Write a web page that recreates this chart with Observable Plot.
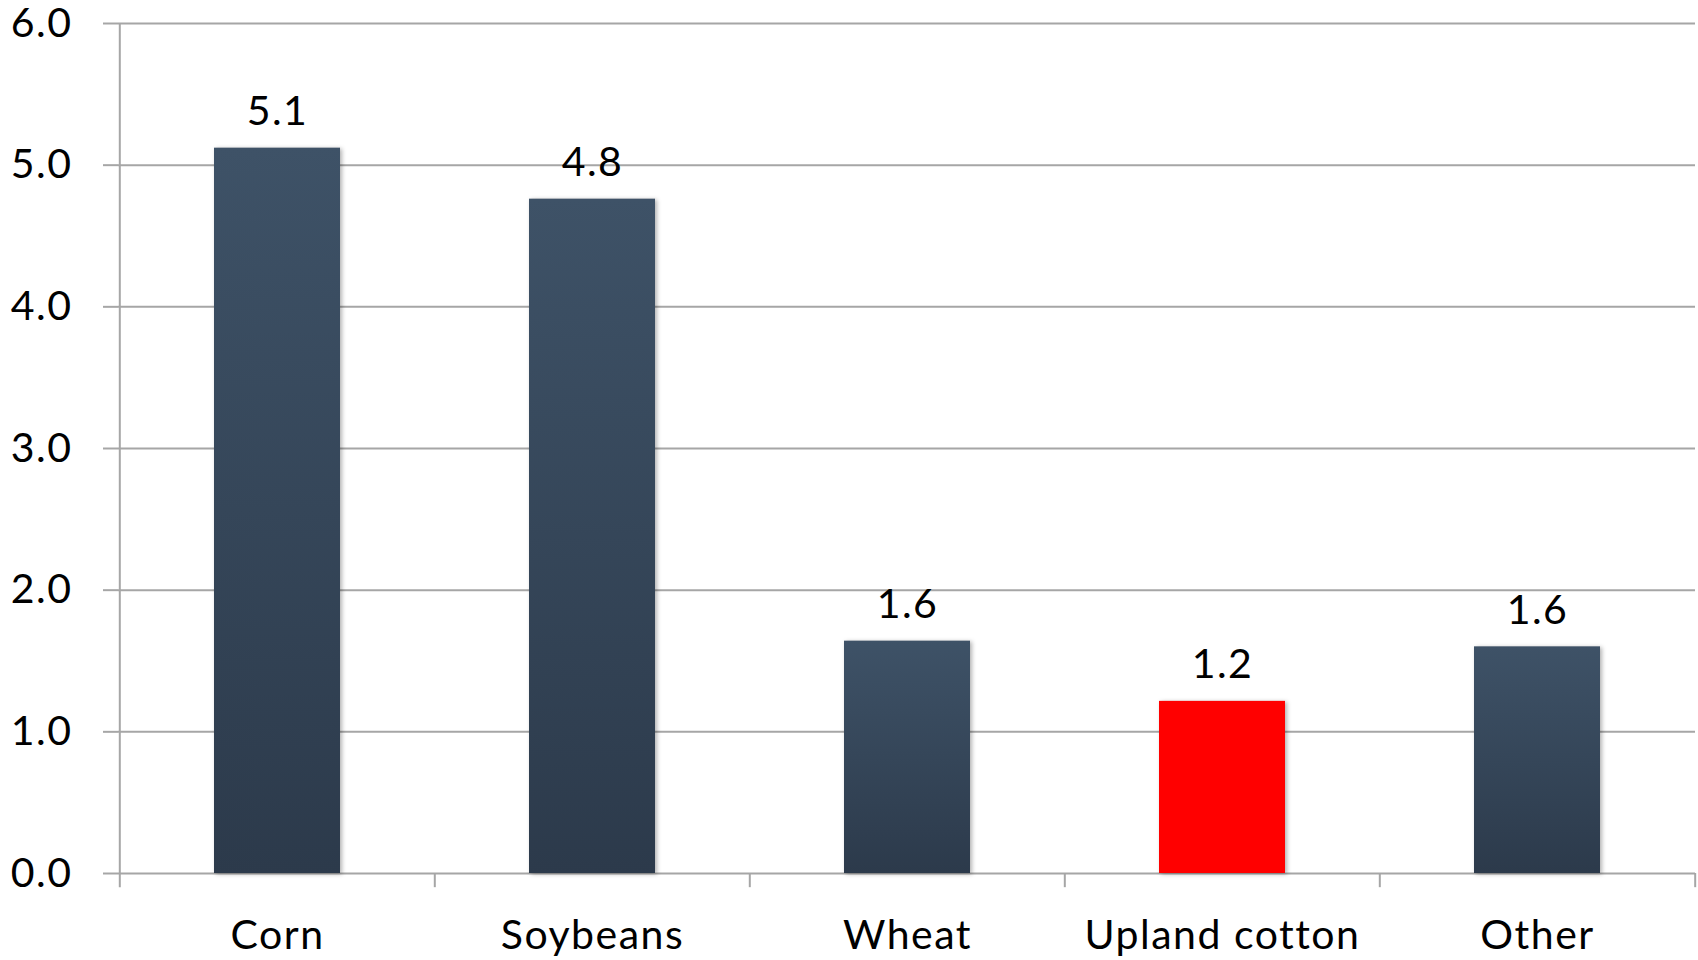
<!DOCTYPE html>
<html><head><meta charset="utf-8">
<script src="https://cdn.jsdelivr.net/npm/d3@7"></script>
<script src="https://cdn.jsdelivr.net/npm/@observablehq/plot@0.6"></script>
<style>
html,body{margin:0;padding:0;background:#fff;}
#chart svg{display:block;}
#chart svg text{letter-spacing:1.5px;}
</style></head><body><div id="chart"></div>
<script>
const categories = ["Corn", "Soybeans", "Wheat", "Upland cotton", "Other"];
const values = [5.12, 4.76, 1.64, 1.215, 1.60];
const highlighted = [false, false, false, true, false];
const yTicks = [0, 1, 2, 3, 4, 5, 6];

const W = 1698, H = 960, mL = 118, mR = 3, mT = 23, mB = 87;
const step = (W - mL - mR) / categories.length;
const data = categories.map((c, i) => ({category: c, value: values[i], label: values[i].toFixed(1), hi: highlighted[i]}));

const defs = () => {
  const s = d3.create("svg:defs");
  const g = s.append("linearGradient").attr("id", "barGrad").attr("x1", 0).attr("y1", 0).attr("x2", 0).attr("y2", 1);
  g.append("stop").attr("offset", "0%").attr("stop-color", "#3e5267");
  g.append("stop").attr("offset", "100%").attr("stop-color", "#2c3a4b");
  return s.node();
};

const grid = "#a6a6a6";
const fs = 41;
const chart = Plot.plot({
  width: W, height: H,
  marginLeft: mL, marginRight: mR, marginTop: mT, marginBottom: mB,
  style: {fontFamily: "Lato, 'Open Sans', sans-serif", fontSize: fs + "px", color: "#000", background: "#fff", overflow: "visible"},
  x: {domain: categories, paddingInner: 0.6, paddingOuter: 0.3, label: null},
  y: {domain: [0, 6], label: null},
  marks: [
    defs,
    Plot.gridY(yTicks, {stroke: grid, strokeOpacity: 1, strokeWidth: 2}),
    Plot.axisY(yTicks, {tickFormat: d => d.toFixed(1), tickSize: 15, tickPadding: 31, stroke: grid, strokeWidth: 2, label: null, fontSize: fs, fill: "#000"}),
    Plot.ruleX([categories[0]], {x: d => d, dx: -step / 2, y1: -0.1, y2: 6, stroke: grid, strokeWidth: 2}),
    Plot.ruleX(categories.slice(1), {x: d => d, dx: -step / 2, y1: -0.1, y2: 0, stroke: grid, strokeWidth: 2}),
    Plot.ruleX([categories[categories.length - 1]], {x: d => d, dx: step / 2, y1: -0.1, y2: 0, stroke: grid, strokeWidth: 2}),
    Plot.barY(data.filter(d => !d.hi), {x: "category", y: "value", fill: "url(#barGrad)", imageFilter: "drop-shadow(2px 1px 2px rgba(0,0,0,0.3))"}),
    Plot.barY(data.filter(d => d.hi), {x: "category", y: "value", fill: "#ff0000", imageFilter: "drop-shadow(2px 1px 2px rgba(0,0,0,0.3))"}),
    Plot.text(data, {x: "category", y: "value", text: "label", lineAnchor: "bottom", dy: -23, fontSize: fs, fill: "#000"}),
    Plot.axisX({tickSize: 0, tickPadding: 46, label: null, fontSize: fs, fill: "#000"})
  ]
});
document.getElementById("chart").appendChild(chart);
</script>
</body></html>
